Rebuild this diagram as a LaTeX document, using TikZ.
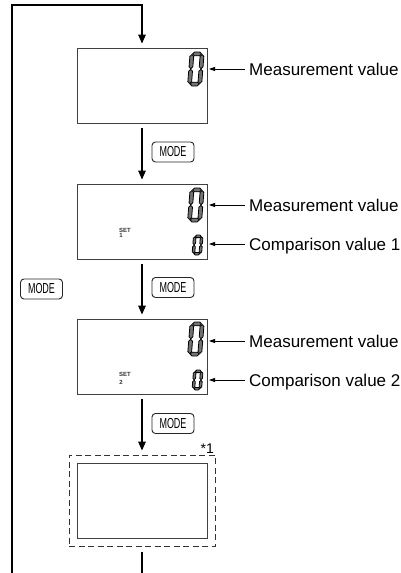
\documentclass[tikz,border=0pt]{standalone}
\usepackage{fontspec}
\setmainfont{Liberation Sans}
\usetikzlibrary{arrows.meta}
\newcommand{\sevzero}[5]{%
  \pgfmathsetmacro\sgh{#5/2}%
  \pgfmathsetmacro\sgg{0.6}%
  \pgfmathsetmacro\sgxa{\sgh+\sgg}%
  \pgfmathsetmacro\sgxr{#3-\sgh}%
  \pgfmathsetmacro\sgyt{#4-\sgh}%
  \pgfmathsetmacro\sgL{#3-4*\sgh-2*\sgg}%
  \pgfmathsetmacro\sgya{\sgh+\sgg}%
  \pgfmathsetmacro\sgyb{#4/2+\sgg/2}%
  \pgfmathsetmacro\sgM{#4/2-3*\sgh-1.5*\sgg}%
  \begin{scope}[shift={(#1,#2)}, yscale=-1, xslant=-0.08]
    \filldraw[seg] (\sgxa,\sgyt) -- ++(\sgh,\sgh) -- ++(\sgL,0) -- ++(\sgh,-\sgh) -- ++(-\sgh,-\sgh) -- ++(-\sgL,0) -- cycle;
    \filldraw[seg] (\sgxa,\sgh) -- ++(\sgh,\sgh) -- ++(\sgL,0) -- ++(\sgh,-\sgh) -- ++(-\sgh,-\sgh) -- ++(-\sgL,0) -- cycle;
    \foreach \sgx in {\sgh,\sgxr}{
      \foreach \sgy in {\sgya,\sgyb}{
        \filldraw[seg] (\sgx,\sgy) -- ++(\sgh,\sgh) -- ++(0,\sgM) -- ++(-\sgh,\sgh) -- ++(-\sgh,-\sgh) -- ++(0,-\sgM) -- cycle;
      }
    }
  \end{scope}}
\tikzset{
  seg/.style={draw=black, fill=black!55, line width=0.8pt, line join=miter},
  lcd/.style={draw=black!75, line width=0.9pt, minimum width=130pt, minimum height=75pt, inner sep=0pt},
  flow/.style={line width=1.5pt, -{Triangle[length=9pt,width=7.5pt]}},
  loopline/.style={line width=1.5pt},
  callout/.style={line width=0.8pt, -{Triangle[length=6pt,width=4pt]}},
  lbl/.style={anchor=base west, inner sep=0pt, font=\fontsize{17}{20}\selectfont},
  modebtn/.style={draw=black!85, line width=0.9pt, rounded corners=3.5pt, minimum width=42pt, minimum height=20pt, inner sep=0pt, font=\fontsize{14.5}{16}\selectfont},
  setlbl/.style={inner sep=0pt, font=\fontsize{6}{7}\selectfont\bfseries, text=black!80}
}
\newcommand{\modetxt}{\scalebox{0.62}[1]{MODE}}
\begin{document}
\begin{tikzpicture}[x=1pt,y=-1pt]
\useasboundingbox (0,0) rectangle (401,573);
% displays
\node[lcd] (b1) at (142,85.5) {};
\node[lcd] (b2) at (142,221.5) {};
\node[lcd] (b3) at (142,356.5) {};
\node[draw=black!80, dashed, dash pattern=on 6pt off 3.5pt, line width=0.9pt, minimum width=146pt, minimum height=91pt, inner sep=0pt] (b4o) at (142,500.5) {};
\node[lcd] (b4) at (142,501) {};
\node[inner sep=0pt, anchor=base east, font=\fontsize{14}{16}\selectfont] (star) at (214,453) {*1};
% digits
\sevzero{187.5}{86}{14}{34}{3.8}
\sevzero{187.5}{222}{14}{34}{3.8}
\sevzero{187.5}{356}{14}{34}{3.8}
\sevzero{192}{255}{9.5}{20}{2.6}
\sevzero{192}{390}{9.5}{20}{2.6}
% SET labels
\node[setlbl] (s1) at (125,230) {SET};
\node[setlbl] (n1) at (121,235.5) {1};
\node[setlbl] (s2) at (125,374.5) {SET};
\node[setlbl] (n2) at (121,382.5) {2};
% callouts
\coordinate (d1) at (209,69);
\coordinate (d2) at (209,205);
\coordinate (d3) at (209,244);
\coordinate (d4) at (209,341);
\coordinate (d5) at (209,380);
\node[lbl] (m1) at (249,75) {Measurement value};
\node[lbl] (m2) at (249,211) {Measurement value};
\node[lbl] (c1) at (249,250) {Comparison value 1};
\node[lbl] (m3) at (249,347) {Measurement value};
\node[lbl] (c2) at (249,386) {Comparison value 2};
\draw[callout] (245,69) -- (d1);
\draw[callout] (245,205) -- (d2);
\draw[callout] (245,244) -- (d3);
\draw[callout] (245,341) -- (d4);
\draw[callout] (245,380) -- (d5);
% mode buttons
\node[modebtn] (k1) at (173,152) {\modetxt};
\node[modebtn] (k2) at (173,287.5) {\modetxt};
\node[modebtn] (k3) at (173,423.5) {\modetxt};
\node[modebtn] (k0) at (41.5,289) {\modetxt};
% flow
\coordinate (lb) at (12,573);
\coordinate (lt) at (12,5);
\coordinate (bot) at (142,573);
\draw[flow, shorten >=4pt] (lb) -- (lt) -| (b1.north);
\draw[flow, shorten <=5pt, shorten >=4pt] (b1.south) -- (b2.north);
\draw[flow, shorten <=5pt, shorten >=4pt] (b2.south) -- (b3.north);
\draw[flow, shorten <=5pt, shorten >=4pt] (b3.south) -- (b4o.north);
\draw[loopline, shorten <=6pt] (b4o.south) -- (bot);
\end{tikzpicture}
\end{document}
